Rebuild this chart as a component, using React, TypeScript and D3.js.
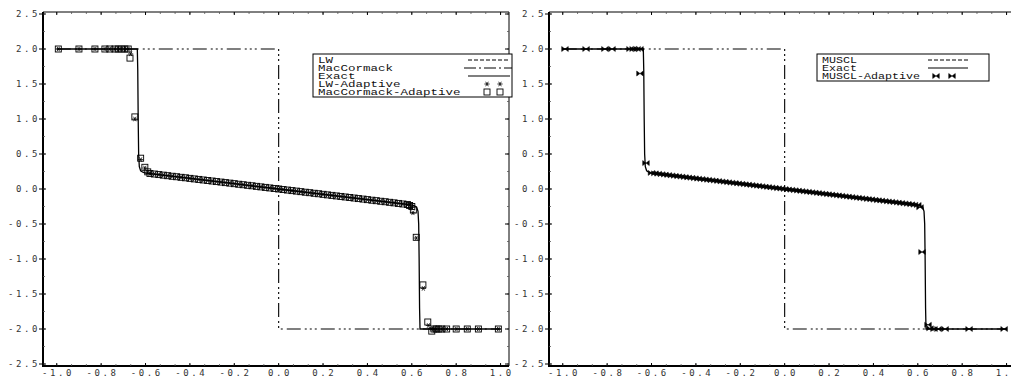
import React from 'react';
import * as d3 from 'd3';

const W = 1011;
const H = 377;

const xTicks = [-1.0, -0.8, -0.6, -0.4, -0.2, 0.0, 0.2, 0.4, 0.6, 0.8, 1.0];
const xTickLabels = ['-1.0', '-0.8', '-0.6', '-0.4', '-0.2', '0.0', '0.2', '0.4', '0.6', '0.8', '1.0'];
const yTicks = [2.5, 2.0, 1.5, 1.0, 0.5, 0.0, -0.5, -1.0, -1.5, -2.0, -2.5];
const yTickLabels = ['2.5', '2.0', '1.5', '1.0', '0.5', '0.0', '-0.5', '-1.0', '-1.5', '-2.0', '-2.5'];

// solid "Exact" curve
const exactX = [-1, -0.637, -0.635, -0.633, -0.631, -0.628, -0.622, -0.612, -0.6, -0.4, -0.2, 0, 0.2, 0.4, 0.6, 0.612, 0.622, 0.628, 0.631, 0.633, 0.635, 0.637, 1];
const exactY = [2, 2, 1.7, 1.0, 0.5, 0.32, 0.26, 0.24, 0.228, 0.152, 0.076, 0, -0.076, -0.152, -0.228, -0.24, -0.26, -0.32, -0.5, -1.0, -1.7, -2, -2];

// dash-dot step line
const stepX = [-1, 0, 0, 1];
const stepY = [2, 2, -2, -2];

// dense middle band of adaptive markers
const bandX = [-0.58, -0.56, -0.54, -0.52, -0.5, -0.48, -0.46, -0.44, -0.42, -0.4, -0.38, -0.36, -0.34, -0.32, -0.3, -0.28, -0.26, -0.24, -0.22, -0.2, -0.18, -0.16, -0.14, -0.12, -0.1, -0.08, -0.06, -0.04, -0.02, 0, 0.02, 0.04, 0.06, 0.08, 0.1, 0.12, 0.14, 0.16, 0.18, 0.2, 0.22, 0.24, 0.26, 0.28, 0.3, 0.32, 0.34, 0.36, 0.38, 0.4, 0.42, 0.44, 0.46, 0.48, 0.5, 0.52, 0.54, 0.56, 0.58];
const bandY = [0.222, 0.214, 0.206, 0.198, 0.19, 0.182, 0.175, 0.167, 0.16, 0.152, 0.144, 0.137, 0.129, 0.122, 0.114, 0.106, 0.099, 0.091, 0.084, 0.076, 0.068, 0.061, 0.053, 0.046, 0.038, 0.03, 0.023, 0.015, 0.008, 0, -0.008, -0.015, -0.023, -0.03, -0.038, -0.046, -0.053, -0.061, -0.068, -0.076, -0.084, -0.091, -0.099, -0.106, -0.114, -0.122, -0.129, -0.137, -0.144, -0.152, -0.16, -0.167, -0.175, -0.182, -0.19, -0.198, -0.206, -0.214, -0.222];

// MUSCL-Adaptive denser band (right panel)
const band2X = [-0.585, -0.57, -0.555, -0.54, -0.525, -0.51, -0.495, -0.48, -0.465, -0.45, -0.435, -0.42, -0.405, -0.39, -0.375, -0.36, -0.345, -0.33, -0.315, -0.3, -0.285, -0.27, -0.255, -0.24, -0.225, -0.21, -0.195, -0.18, -0.165, -0.15, -0.135, -0.12, -0.105, -0.09, -0.075, -0.06, -0.045, -0.03, -0.015, 0, 0.015, 0.03, 0.045, 0.06, 0.075, 0.09, 0.105, 0.12, 0.135, 0.15, 0.165, 0.18, 0.195, 0.21, 0.225, 0.24, 0.255, 0.27, 0.285, 0.3, 0.315, 0.33, 0.345, 0.36, 0.375, 0.39, 0.405, 0.42, 0.435, 0.45, 0.465, 0.48, 0.495, 0.51, 0.525, 0.54, 0.555, 0.57, 0.585];
const band2Y = [0.224, 0.218, 0.212, 0.206, 0.2, 0.194, 0.188, 0.182, 0.177, 0.171, 0.165, 0.16, 0.154, 0.148, 0.143, 0.137, 0.131, 0.125, 0.12, 0.114, 0.108, 0.103, 0.097, 0.091, 0.086, 0.08, 0.074, 0.068, 0.063, 0.057, 0.051, 0.046, 0.04, 0.034, 0.029, 0.023, 0.017, 0.011, 0.006, 0, -0.006, -0.011, -0.017, -0.023, -0.029, -0.034, -0.04, -0.046, -0.051, -0.057, -0.063, -0.068, -0.074, -0.08, -0.086, -0.091, -0.097, -0.103, -0.108, -0.114, -0.12, -0.125, -0.131, -0.137, -0.143, -0.148, -0.154, -0.16, -0.165, -0.171, -0.177, -0.182, -0.188, -0.194, -0.2, -0.206, -0.212, -0.218, -0.224];

// MacCormack-Adaptive (squares) edges
const sqEdgeX = [-0.993, -0.9, -0.828, -0.783, -0.761, -0.738, -0.723, -0.708, -0.693, -0.678, -0.67, -0.648, -0.622, -0.603, -0.59, 0.59, 0.6, 0.607, 0.62, 0.65, 0.672, 0.69, 0.7, 0.71, 0.722, 0.735, 0.757, 0.8, 0.85, 0.9, 0.99];
const sqEdgeY = [2, 2, 2, 2, 2, 2, 2, 2, 2, 2, 1.87, 1.03, 0.44, 0.31, 0.245, -0.235, -0.25, -0.3, -0.69, -1.37, -1.9, -2.03, -2, -2, -2, -2, -2, -2, -2, -2, -2];

// LW-Adaptive (stars) edges
const stEdgeX = [-0.993, -0.9, -0.828, -0.783, -0.761, -0.738, -0.723, -0.708, -0.693, -0.678, -0.667, -0.648, -0.622, -0.603, -0.59, 0.59, 0.6, 0.605, 0.62, 0.652, 0.675, 0.69, 0.7, 0.71, 0.722, 0.735, 0.757, 0.8, 0.85, 0.9, 0.99];
const stEdgeY = [2, 2, 2, 2, 2, 2, 2, 2, 2, 2, 1.93, 1.0, 0.42, 0.3, 0.24, -0.235, -0.26, -0.34, -0.7, -1.42, -1.95, -2, -2, -2, -2, -2, -2, -2, -2, -2, -2];

// MUSCL-Adaptive (bowties) edges
const bwEdgeX = [-0.99, -0.895, -0.81, -0.778, -0.697, -0.683, -0.665, -0.652, -0.652, -0.625, -0.6, 0.6, 0.61, 0.619, 0.646, 0.655, 0.673, 0.691, 0.723, 0.831, 0.989];
const bwEdgeY = [2, 2, 2, 2, 2, 2, 2, 2, 1.65, 0.37, 0.23, -0.228, -0.26, -0.9, -1.94, -1.99, -2, -2, -2, -2, -2];

const leftLegend = ['LW', 'MacCormack', 'Exact', 'LW-Adaptive', 'MacCormack-Adaptive'];
const rightLegend = ['MUSCL', 'Exact', 'MUSCL-Adaptive'];

const TOP = 12;
const BOTTOM = 366;
const X_DOMAIN: [number, number] = [-1.062, 1.038];

const tickFont = { fontFamily: 'DejaVu Sans Mono', fontSize: 9, letterSpacing: 2.6, fill: '#333' } as const;
const legFont = { fontFamily: 'Liberation Mono', fontSize: 8.6, fill: '#111' } as const;

const starPath = 'M-2.6,0L2.6,0M-1.3,-2.25L1.3,2.25M-1.3,2.25L1.3,-2.25';
const bowPath = 'M-3.3,-2.5L-3.3,2.5L3.3,-2.5L3.3,2.5Z';

function zip(xs: number[], ys: number[]) {
  return xs.map((x, i) => [x, ys[i]] as [number, number]);
}

function Star({ x, y }: { x: number; y: number }) {
  return <path d={starPath} transform={`translate(${x},${y})`} stroke="#000" strokeWidth={0.8} fill="none" />;
}
function Square({ x, y }: { x: number; y: number }) {
  return <rect x={x - 3} y={y - 3} width={6} height={6} stroke="#000" strokeWidth={0.9} fill="none" />;
}
function Bow({ x, y }: { x: number; y: number }) {
  return <path d={bowPath} transform={`translate(${x},${y})`} stroke="#000" strokeWidth={0.5} fill="#000" />;
}

function Panel({ x0, x1, kind }: { x0: number; x1: number; kind: 'left' | 'right' }) {
  const xs = d3.scaleLinear().domain(X_DOMAIN).range([x0, x0 + 466]);
  const ys = d3.scaleLinear().domain([-2.5, 2.5]).range([364, 14]);
  const line = d3.line<[number, number]>().x((d) => xs(d[0])).y((d) => ys(d[1]));
  const right = Math.min(x1, W);

  const minorX: number[] = [];
  for (let i = -16; i <= 15; i++) minorX.push(i / 15);
  const minorY: number[] = [];
  for (let i = -10; i <= 10; i++) minorY.push(i * 0.25);

  const markersA = kind === 'left' ? zip(stEdgeX, stEdgeY).concat(zip(bandX, bandY)) : [];
  const markersB = kind === 'left' ? zip(sqEdgeX, sqEdgeY).concat(zip(bandX, bandY)) : zip(bwEdgeX, bwEdgeY).concat(zip(band2X, band2Y));

  return (
    <g>
      {/* frame */}
      <line x1={x0} x2={right} y1={TOP} y2={TOP} stroke="#000" strokeWidth={1} />
      {x1 <= W && <line x1={x1} x2={x1} y1={TOP} y2={BOTTOM} stroke="#000" strokeWidth={1} />}
      <line x1={x0} x2={x0} y1={TOP} y2={BOTTOM + 1} stroke="#000" strokeWidth={2} />
      <line x1={x0} x2={right} y1={BOTTOM} y2={BOTTOM} stroke="#000" strokeWidth={2} />

      {/* minor ticks */}
      {minorX.filter((v) => xs(v) > x0 + 2 && xs(v) < right).map((v, i) => (
        <g key={'mx' + i}>
          <line x1={xs(v)} x2={xs(v)} y1={BOTTOM} y2={BOTTOM - 2} stroke="#555" strokeWidth={0.8} />
          <line x1={xs(v)} x2={xs(v)} y1={TOP} y2={TOP + 2} stroke="#555" strokeWidth={0.8} />
        </g>
      ))}
      {minorY.map((v, i) => (
        <g key={'my' + i}>
          <line x1={x0} x2={x0 + 2} y1={ys(v)} y2={ys(v)} stroke="#555" strokeWidth={0.8} />
          {x1 <= W && <line x1={x1} x2={x1 - 2} y1={ys(v)} y2={ys(v)} stroke="#555" strokeWidth={0.8} />}
        </g>
      ))}
      {/* major ticks */}
      {yTicks.map((v, i) => (
        <g key={'yt' + i}>
          <line x1={x0 - 4} x2={x0 + 3} y1={ys(v)} y2={ys(v)} stroke="#000" strokeWidth={1} />
          {x1 <= W && <line x1={x1} x2={x1 - 4} y1={ys(v)} y2={ys(v)} stroke="#000" strokeWidth={1} />}
          <text x={x0 - 3} y={ys(v) + 3.2} textAnchor="end" {...tickFont}>{yTickLabels[i]}</text>
        </g>
      ))}
      {xTicks.map((v, i) => (
        <g key={'xt' + i}>
          <line x1={xs(v)} x2={xs(v)} y1={BOTTOM} y2={BOTTOM - 3} stroke="#000" strokeWidth={1} />
          <line x1={xs(v)} x2={xs(v)} y1={TOP} y2={TOP + 3} stroke="#000" strokeWidth={1} />
          <text x={xs(v) + 1.3} y={376} textAnchor="middle" {...tickFont}>{xTickLabels[i]}</text>
        </g>
      ))}

      {/* curves */}
      <path d={line(zip(stepX, stepY)) || ''} fill="none" stroke="#000" strokeWidth={1.1} strokeDasharray="14,4,2,3,2,3,2,4" />
      <path d={line(zip(exactX, exactY)) || ''} fill="none" stroke="#000" strokeWidth={1.3} />

      {/* markers */}
      {markersB.map((d, i) =>
        kind === 'left' ? <Square key={'b' + i} x={xs(d[0])} y={ys(d[1])} /> : <Bow key={'b' + i} x={xs(d[0])} y={ys(d[1])} />
      )}
      {markersA.map((d, i) => <Star key={'a' + i} x={xs(d[0])} y={ys(d[1])} />)}

      {/* legend */}
      {kind === 'left' ? (
        <g>
          <rect x={313} y={54} width={199} height={43} fill="#fff" stroke="#000" strokeWidth={1} />
          {leftLegend.map((t, i) => (
            <text key={t} x={318} y={63 + i * 8.1} textLength={t.length * 7.5} lengthAdjust="spacingAndGlyphs" {...legFont}>{t}</text>
          ))}
          <line x1={468} x2={510} y1={60} y2={60} stroke="#000" strokeWidth={1} strokeDasharray="4,2" />
          <line x1={464} x2={512} y1={68} y2={68} stroke="#000" strokeWidth={1} strokeDasharray="12,3,2,3" />
          <line x1={468} x2={510} y1={76} y2={76} stroke="#000" strokeWidth={1.2} />
          <Star x={487} y={84} />
          <Star x={500} y={84} />
          <Square x={487} y={92} />
          <Square x={500} y={92} />
        </g>
      ) : (
        <g>
          <rect x={817} y={54} width={172} height={27} fill="#fff" stroke="#000" strokeWidth={1} />
          {rightLegend.map((t, i) => (
            <text key={t} x={822} y={63 + i * 8.1} textLength={t.length * 7.0} lengthAdjust="spacingAndGlyphs" {...legFont}>{t}</text>
          ))}
          <line x1={928} x2={968} y1={60} y2={60} stroke="#000" strokeWidth={1} strokeDasharray="4,2" />
          <line x1={928} x2={968} y1={68} y2={68} stroke="#000" strokeWidth={1.2} />
          <Bow x={936} y={76} />
          <Bow x={952} y={76} />
        </g>
      )}
    </g>
  );
}

export default function App() {
  return (
    <svg width={W} height={H} viewBox={`0 0 ${W} ${H}`} style={{ position: 'absolute', left: 0, top: 0, background: '#fff' }}>
      <rect x={0} y={0} width={W} height={H} fill="#fff" />
      <Panel x0={43} x1={509} kind="left" />
      <Panel x0={549} x1={1015} kind="right" />
    </svg>
  );
}
